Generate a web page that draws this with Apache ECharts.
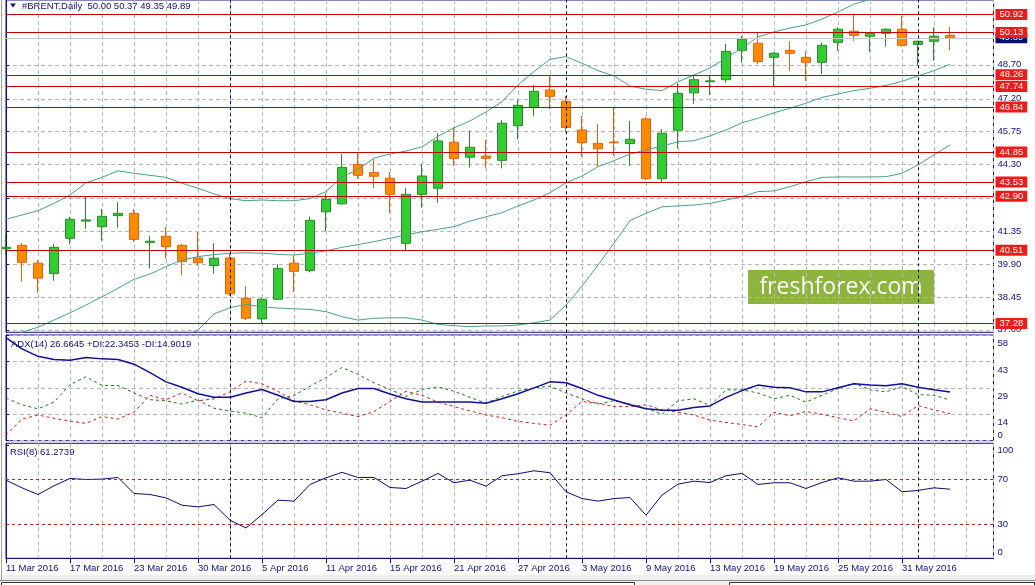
<!DOCTYPE html>
<html>
<head>
<meta charset="utf-8">
<title>#BRENT, Daily</title>
<script src="https://cdn.jsdelivr.net/npm/echarts@6.0.0/dist/echarts.min.js"></script>
<style>
  html, body { margin: 0; padding: 0; background: #fff; }
  #chart { width: 1035px; height: 585px; }
</style>
</head>
<body>
<div id="chart"></div>
<script>
// trading days shown on the chart (year is 2016)
var days = ['11 Mar', '14 Mar', '15 Mar', '16 Mar', '17 Mar', '18 Mar', '21 Mar', '22 Mar', '23 Mar', '24 Mar',
            '28 Mar', '29 Mar', '30 Mar', '31 Mar', '1 Apr', '4 Apr', '5 Apr', '6 Apr', '7 Apr', '8 Apr',
            '11 Apr', '12 Apr', '13 Apr', '14 Apr', '15 Apr', '18 Apr', '19 Apr', '20 Apr', '21 Apr', '22 Apr',
            '25 Apr', '26 Apr', '27 Apr', '28 Apr', '29 Apr', '2 May', '3 May', '4 May', '5 May', '6 May',
            '9 May', '10 May', '11 May', '12 May', '13 May', '16 May', '17 May', '18 May', '19 May', '20 May',
            '23 May', '24 May', '25 May', '26 May', '27 May', '30 May', '31 May', '1 Jun', '2 Jun', '3 Jun'];

var opens  = [40.58, 40.73, 39.94, 39.49, 41.04, 41.80, 41.55, 42.04, 42.14, 40.86,
              41.13, 40.73, 40.17, 39.84, 40.17, 38.39, 37.48, 38.35, 39.94, 39.62,
              42.21, 42.56, 44.30, 43.94, 43.69, 40.82, 42.98, 43.25, 45.28, 44.62,
              44.67, 44.48, 46.01, 46.82, 47.59, 47.09, 45.82, 45.23, 45.29, 45.22,
              46.31, 43.67, 45.81, 47.46, 47.95, 48.04, 49.34, 49.65, 49.03, 49.34,
              49.03, 48.81, 49.69, 50.18, 49.96, 50.09, 50.27, 49.60, 49.74, 50.00];
var highs  = [41.27, 40.82, 40.08, 40.79, 41.99, 42.88, 42.33, 42.64, 42.33, 41.14,
              41.54, 40.79, 41.32, 40.82, 40.38, 38.93, 38.40, 39.90, 40.26, 41.99,
              43.03, 44.75, 44.82, 44.53, 43.97, 43.25, 44.32, 45.68, 45.94, 45.79,
              45.38, 46.26, 47.15, 47.81, 48.25, 47.32, 46.44, 46.09, 46.82, 46.22,
              46.41, 45.86, 47.88, 48.25, 48.24, 49.62, 49.97, 50.15, 49.26, 49.74,
              49.28, 49.69, 50.35, 50.90, 50.13, 50.31, 50.85, 49.76, 50.35, 50.37];
var lows   = [40.30, 39.12, 38.64, 39.17, 40.79, 41.46, 40.93, 41.51, 40.89, 39.71,
              40.14, 39.40, 39.83, 39.48, 38.50, 37.43, 37.26, 38.31, 38.66, 39.54,
              41.36, 42.52, 43.67, 43.25, 42.17, 40.52, 42.39, 42.61, 44.23, 44.16,
              44.13, 44.13, 45.41, 46.45, 46.73, 45.70, 44.64, 44.23, 44.69, 44.24,
              43.61, 43.51, 45.01, 46.96, 47.37, 47.91, 48.79, 48.73, 47.76, 48.44,
              47.99, 48.29, 49.32, 49.76, 49.28, 49.50, 49.50, 48.68, 48.88, 49.35];
var closes = [40.64, 39.98, 39.28, 40.64, 41.88, 41.85, 42.01, 42.14, 40.99, 40.91,
              40.67, 40.01, 39.96, 40.16, 38.59, 37.51, 38.35, 39.71, 39.58, 41.83,
              42.76, 44.17, 43.82, 43.78, 42.98, 42.98, 43.79, 45.34, 44.57, 45.06,
              44.57, 46.12, 46.91, 47.53, 47.31, 45.93, 45.26, 44.99, 45.26, 45.41,
              43.67, 45.68, 47.44, 48.04, 47.99, 49.29, 49.83, 48.84, 49.21, 49.21,
              48.81, 49.56, 50.27, 50.00, 50.09, 50.27, 49.56, 49.74, 49.96, 49.89];

// Bollinger bands
var bbUpper  = [41.88, 42.07, 42.26, 42.58, 42.95, 43.49, 43.73, 44.02, 43.91, 43.82,
                43.73, 43.47, 43.25, 43.00, 42.79, 42.70, 42.73, 42.70, 42.70, 42.79,
                43.10, 43.75, 44.08, 44.58, 44.76, 44.89, 45.08, 45.54, 45.92, 46.22,
                46.62, 47.07, 47.81, 48.40, 48.94, 49.06, 48.77, 48.44, 48.21, 47.76,
                47.62, 47.56, 47.95, 48.25, 48.56, 49.00, 49.44, 49.93, 50.15, 50.32,
                50.46, 50.72, 51.03, 51.38, 51.58, 51.83, 52.03, 52.13, 52.16, 52.28];
var bbMiddle = [36.46, 36.90, 37.11, 37.43, 37.75, 38.09, 38.46, 38.83, 39.23, 39.46,
                39.79, 40.08, 40.23, 40.32, 40.38, 40.40, 40.38, 40.33, 40.30, 40.38,
                40.49, 40.64, 40.76, 40.89, 41.04, 41.19, 41.33, 41.44, 41.55, 41.80,
                41.99, 42.17, 42.47, 42.73, 43.05, 43.49, 43.79, 44.20, 44.47, 44.76,
                44.94, 45.11, 45.30, 45.35, 45.56, 45.82, 46.14, 46.34, 46.58, 46.78,
                47.00, 47.26, 47.41, 47.56, 47.66, 47.79, 47.97, 48.21, 48.44, 48.72];
var bbLower  = [31.04, 31.74, 31.96, 32.28, 32.56, 32.70, 33.19, 33.64, 34.55, 35.11,
                35.84, 36.69, 36.99, 37.70, 37.98, 38.12, 38.02, 37.96, 37.93, 37.90,
                37.80, 37.58, 37.43, 37.51, 37.53, 37.53, 37.43, 37.24, 37.18, 37.14,
                37.17, 37.17, 37.21, 37.31, 37.43, 38.09, 38.93, 39.86, 40.82, 41.82,
                42.14, 42.43, 42.47, 42.51, 42.58, 42.73, 42.88, 43.10, 43.13, 43.32,
                43.54, 43.73, 43.75, 43.75, 43.75, 43.76, 43.91, 44.28, 44.72, 45.16];

// ADX(14)
var adxLine = [56.5, 50.4, 46.3, 44.6, 44.2, 45.7, 44.9, 44.6, 42.0, 37.4,
               32.3, 29.3, 25.8, 23.8, 23.8, 26.2, 28.1, 24.9, 21.5, 21.5,
               22.5, 26.2, 28.6, 28.6, 25.6, 23.0, 21.2, 21.2, 21.2, 21.2,
               20.6, 23.0, 25.8, 29.0, 32.3, 31.8, 28.6, 24.9, 22.3, 19.7,
               17.5, 16.7, 16.7, 18.2, 19.1, 23.8, 27.5, 30.5, 29.3, 29.0,
               26.8, 26.8, 29.0, 31.2, 30.5, 30.1, 31.2, 29.3, 27.9, 26.7];
var plusDI  = [23.4, 19.7, 17.5, 21.2, 30.8, 35.1, 30.3, 30.3, 26.2, 22.5,
               21.9, 20.1, 22.3, 17.8, 16.3, 15.1, 12.6, 23.0, 24.7, 29.9,
               34.6, 40.2, 36.4, 31.8, 28.1, 24.3, 28.1, 29.6, 27.1, 23.8,
               20.6, 24.3, 27.3, 29.0, 29.9, 26.2, 23.0, 20.1, 21.9, 20.1,
               17.8, 14.5, 21.9, 23.0, 19.3, 27.9, 27.9, 26.2, 23.0, 24.9,
               21.2, 24.9, 28.6, 31.6, 27.9, 26.8, 29.7, 25.3, 24.9, 22.3];
var minusDI = [3.0, 11.9, 14.1, 12.3, 10.8, 9.5, 13.2, 11.9, 15.6, 24.9,
               22.5, 26.2, 21.9, 23.0, 26.8, 32.7, 31.2, 27.1, 21.9, 19.7,
               16.9, 15.1, 13.2, 16.0, 21.5, 27.1, 24.9, 21.2, 18.7, 16.3,
               14.1, 12.6, 10.6, 9.5, 8.5, 14.1, 21.5, 20.6, 18.7, 18.7,
               19.7, 16.9, 15.6, 14.1, 11.3, 10.0, 8.9, 7.6, 15.6, 13.7,
               16.0, 14.5, 12.6, 10.8, 17.5, 15.6, 13.2, 19.3, 16.9, 14.9];

// RSI(8)
var rsiLine = [69.3, 62.5, 56.6, 64.3, 70.8, 69.9, 70.2, 71.7, 57.5, 56.6,
               53.6, 47.1, 45.6, 47.7, 33.8, 26.9, 38.8, 51.6, 50.7, 65.5,
               71.4, 76.2, 71.7, 71.7, 62.8, 61.9, 68.4, 75.3, 67.0, 69.3,
               64.0, 73.2, 75.0, 77.6, 75.9, 59.0, 53.0, 50.7, 53.0, 53.9,
               38.2, 56.0, 65.8, 68.4, 67.2, 73.2, 75.3, 65.5, 67.0, 67.0,
               61.9, 67.2, 71.4, 68.4, 68.4, 69.9, 59.0, 60.2, 62.5, 61.3];

var levels = [50.92, 50.13, 48.26, 47.74, 46.84, 44.85, 43.53, 42.90, 40.51, 37.28];
var priceTicks = [37.00, 38.45, 39.90, 41.35, 42.80, 44.30, 45.75, 47.20, 48.70, 50.15];
var rsiTicks = [0, 30, 70, 100];
var rsiLevels = [70, 30];
var bid = 49.89;

var navy = '#12127a';
var gridGrey = '#b8b8b8';
var levelRed = '#c00000';
var font = '"Liberation Sans", Arial, sans-serif';
var fs = 9.5;
var xMax = 61.72;

function pairs(arr) {
    return arr.map(function (v, i) { return [i, v]; });
}

var candles = opens.map(function (o, i) {
    return [i, o, closes[i], lows[i], highs[i]];
});

var labelIdx = [];
for (var k = 0; k < days.length; k += 4) labelIdx.push(k);

// first bar of each new month -> period separator
var monthStarts = [];
days.forEach(function (d, i) {
    if (i > 0 && d.split(' ')[1] !== days[i - 1].split(' ')[1]) monthStarts.push(i);
});

function separators() {
    return {
        silent: true, symbol: ['none', 'none'], label: { show: false },
        lineStyle: { color: '#0a0a50', width: 1, type: [3, 3] },
        data: monthStarts.map(function (i) { return { xAxis: i }; })
    };
}

var last = days.length - 1;
var header = '#BRENT,Daily  ' + [opens[last], highs[last], lows[last], closes[last]]
    .map(function (v) { return v.toFixed(2); }).join(' ');

function splitX(gridIndex, position) {
    return {
        gridIndex: gridIndex, type: 'value', min: 0, max: xMax, interval: 2,
        position: position || 'bottom',
        axisLine: { show: false }, axisTick: { show: false }, axisLabel: { show: false },
        splitLine: { show: true, lineStyle: { color: gridGrey, width: 1, type: [4, 3] } }
    };
}

var myChart = echarts.init(document.getElementById('chart'));

var option = {
    animation: false,
    backgroundColor: '#fff',
    grid: [
        { left: 6, top: 0, width: 987.5, height: 332.3, show: true, borderColor: navy, borderWidth: 1 },
        { left: 6, top: 335, width: 987.5, height: 105.7, show: true, borderColor: navy, borderWidth: 1 },
        { left: 6, top: 443.3, width: 987.5, height: 115, show: true, borderColor: navy, borderWidth: 1 }
    ],
    xAxis: [
        splitX(0),
        splitX(1),
        splitX(2, 'top'),
        {
            gridIndex: 2, type: 'value', min: 0, max: xMax, position: 'bottom',
            axisLine: { show: true, lineStyle: { color: navy } },
            axisTick: { show: true, length: 5, lineStyle: { color: navy }, customValues: labelIdx },
            axisLabel: {
                customValues: labelIdx, align: 'left', margin: 5,
                color: navy, fontSize: fs, fontFamily: font,
                formatter: function (v) { return days[v] ? days[v] + ' 2016' : ''; }
            },
            splitLine: { show: false }
        }
    ],
    yAxis: [
        {
            gridIndex: 0, type: 'value', position: 'right', min: 36.89, max: 51.56,
            axisLine: { show: true, lineStyle: { color: navy } },
            axisTick: { show: true, length: 3, lineStyle: { color: navy }, customValues: priceTicks },
            axisLabel: {
                customValues: priceTicks, margin: 4, color: navy, fontSize: fs, fontFamily: font,
                formatter: function (v) { return v.toFixed(2); }
            },
            splitLine: { show: true, lineStyle: { color: gridGrey, width: 1, type: [4, 3] } }
        },
        {
            gridIndex: 1, type: 'value', position: 'right', min: 0, max: 58, interval: 14.5,
            axisLine: { show: true, lineStyle: { color: navy } },
            axisTick: { show: true, length: 3, lineStyle: { color: navy } },
            axisLabel: {
                margin: 4, color: navy, fontSize: fs, fontFamily: font,
                showMinLabel: true, showMaxLabel: true,
                formatter: function (v) {
                    var t = String(Math.floor(v));
                    return v === 0 ? '{lo|' + t + '}' : '{hi|' + t + '}';
                },
                rich: {
                    hi: { padding: [17, 0, 0, 0], color: navy, fontSize: fs, fontFamily: font },
                    lo: { padding: [0, 0, 11, 0], color: navy, fontSize: fs, fontFamily: font }
                }
            },
            splitLine: { show: true, lineStyle: { color: gridGrey, width: 1, type: [4, 3] } }
        },
        {
            gridIndex: 2, type: 'value', position: 'right', min: 0, max: 102,
            axisLine: { show: true, lineStyle: { color: navy } },
            axisTick: { show: true, length: 3, lineStyle: { color: navy }, customValues: rsiTicks },
            axisLabel: {
                customValues: rsiTicks, margin: 4, color: navy, fontSize: fs, fontFamily: font,
                formatter: function (v) {
                    if (v === 100) return '{hi|100}';
                    if (v === 0) return '{lo|0}';
                    return '{md|' + v + '}';
                },
                rich: {
                    hi: { padding: [10, 0, 0, 0], color: navy, fontSize: fs, fontFamily: font },
                    lo: { padding: [0, 0, 11, 0], color: navy, fontSize: fs, fontFamily: font },
                    md: { color: navy, fontSize: fs, fontFamily: font }
                }
            },
            splitLine: { show: false }
        }
    ],
    graphic: [
        { type: 'rect', left: 0, top: 575, shape: { width: 1035, height: 10 }, style: { fill: '#efefef' }, z: 5 },
        { type: 'line', shape: { x1: 0, y1: 580.5, x2: 1035, y2: 580.5 }, style: { stroke: '#8a8a8a', lineWidth: 1 }, z: 6 },
        { type: 'rect', shape: { x: 1.5, y: 582.5, width: 633, height: 8 }, style: { fill: '#fff', stroke: '#333', lineWidth: 1 }, z: 6 },
        { type: 'rect', shape: { x: 729.5, y: 582.5, width: 305, height: 8 }, style: { fill: '#fff', stroke: '#333', lineWidth: 1 }, z: 6 },
        { type: 'line', shape: { x1: 1.5, y1: 0, x2: 1.5, y2: 580 }, style: { stroke: '#a0a0a0', lineWidth: 1 }, z: 6 },
        { type: 'polygon', shape: { points: [[10, 3.5], [16, 3.5], [13, 7.5]] }, style: { fill: navy }, z: 10 },
        { type: 'text', left: 22, top: 1, style: { text: header, fill: navy, fontSize: fs, fontFamily: font }, z: 10 },
        { type: 'text', left: 11, top: 339, style: { text: 'ADX(14) 26.6645 +DI:22.3453 -DI:14.9019', fill: navy, fontSize: fs, fontFamily: font }, z: 10 },
        { type: 'text', left: 10, top: 447.5, style: { text: 'RSI(8) 61.2739', fill: navy, fontSize: fs, fontFamily: font }, z: 10 },
        {
            type: 'group', left: 748, top: 270, z: 1,
            children: [
                { type: 'rect', shape: { x: 0, y: 0, width: 186, height: 34 }, style: { fill: '#8db43e' } },
                { type: 'text', x: 93, y: 17, style: { text: 'freshforex.com', fill: '#fff', fontSize: 23, fontFamily: '"Open Sans", Roboto, sans-serif', align: 'center', verticalAlign: 'middle' } }
            ]
        }
    ],
    series: [
        {
            name: 'BB upper', type: 'line', xAxisIndex: 0, yAxisIndex: 0,
            data: pairs(bbUpper), showSymbol: false, silent: true,
            lineStyle: { color: '#4aa283', width: 1 },
            markLine: {
                silent: true, symbol: ['none', 'none'],
                lineStyle: { color: '#c8c8c8', width: 1, type: 'solid' },
                label: {
                    position: 'end', distance: 2, color: '#fff', backgroundColor: '#0c0c6a',
                    padding: [1, 4, 0, 4], fontSize: fs, fontFamily: font,
                    formatter: function (p) { return p.value.toFixed(2); }
                },
                data: [{ yAxis: bid }]
            }
        },
        {
            name: 'BB middle', type: 'line', xAxisIndex: 0, yAxisIndex: 0,
            data: pairs(bbMiddle), showSymbol: false, silent: true,
            lineStyle: { color: '#4aa283', width: 1 },
            markLine: separators()
        },
        {
            name: 'BB lower', type: 'line', xAxisIndex: 0, yAxisIndex: 0,
            data: pairs(bbLower), showSymbol: false, silent: true,
            lineStyle: { color: '#4aa283', width: 1 }
        },
        {
            name: 'BRENT', type: 'candlestick', xAxisIndex: 0, yAxisIndex: 0,
            data: candles, barWidth: 10, silent: true,
            itemStyle: {
                color: '#33cc33', color0: '#ff8c00',
                borderColor: '#2a8a2a', borderColor0: '#e5600d', borderWidth: 1
            },
            markLine: {
                silent: true, symbol: ['none', 'none'],
                lineStyle: { color: levelRed, width: 1, type: 'solid' },
                label: {
                    position: 'end', distance: 2, color: '#fff', backgroundColor: '#ee1b1b',
                    padding: [1, 4, 0, 4], fontSize: fs, fontFamily: font,
                    formatter: function (p) { return p.value.toFixed(2); }
                },
                data: levels.map(function (v) { return { yAxis: v }; })
            }
        },
        {
            name: '+DI', type: 'line', xAxisIndex: 1, yAxisIndex: 1,
            data: pairs(plusDI), showSymbol: false, silent: true,
            lineStyle: { color: '#1f7a1f', width: 1, type: [3, 3] }
        },
        {
            name: '-DI', type: 'line', xAxisIndex: 1, yAxisIndex: 1,
            data: pairs(minusDI), showSymbol: false, silent: true,
            lineStyle: { color: '#cc2222', width: 1, type: [3, 3] }
        },
        {
            name: 'ADX', type: 'line', xAxisIndex: 1, yAxisIndex: 1,
            data: pairs(adxLine), showSymbol: false, silent: true,
            lineStyle: { color: '#10109a', width: 1.5 },
            markLine: separators()
        },
        {
            name: 'RSI levels', type: 'line', xAxisIndex: 2, yAxisIndex: 2,
            data: [], silent: true,
            markLine: {
                silent: true, symbol: ['none', 'none'], label: { show: false },
                lineStyle: { color: '#c42020', width: 1, type: [3, 3] },
                data: rsiLevels.map(function (v) { return { yAxis: v }; })
            }
        },
        {
            name: 'RSI', type: 'line', xAxisIndex: 2, yAxisIndex: 2,
            data: pairs(rsiLine), showSymbol: false, silent: true,
            lineStyle: { color: '#0c0c6e', width: 1 },
            markLine: separators()
        }
    ]
};

myChart.setOption(option);
</script>
</body>
</html>
